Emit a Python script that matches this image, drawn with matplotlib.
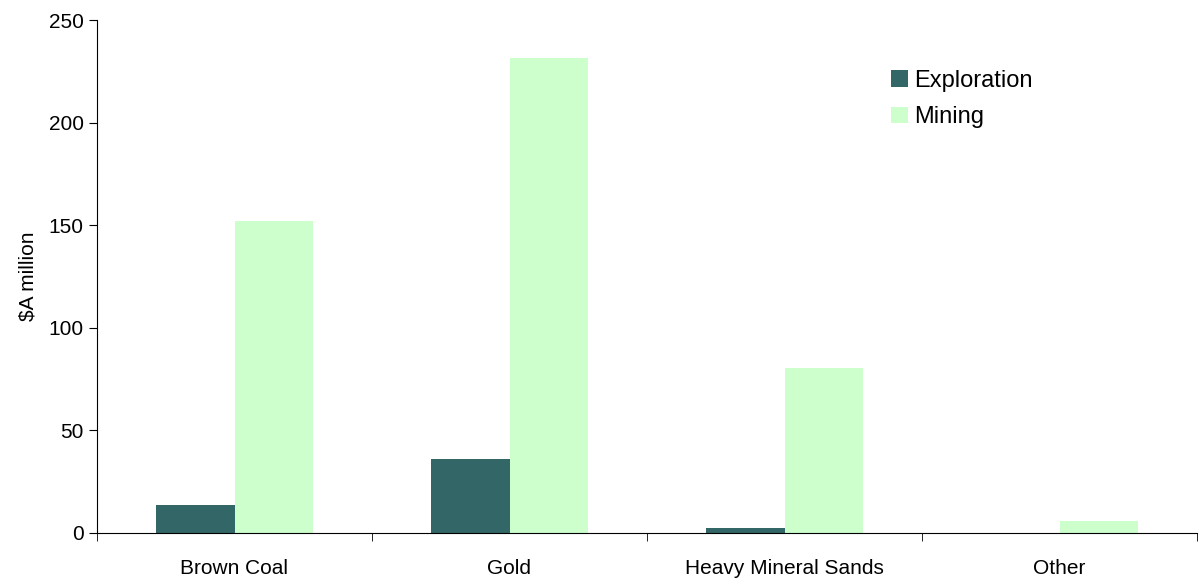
import numpy as np
import matplotlib.pyplot as plt

plt.rcParams['font.family'] = ['Liberation Sans', 'DejaVu Sans']

# Spending by commodity, $A million
categories = ["Brown Coal", "Gold", "Heavy Mineral Sands", "Other"]
exploration = [13.6, 36.0, 2.4, 0.0]
mining = [152.0, 231.5, 80.4, 5.8]

fig = plt.figure(figsize=(12, 5.78), dpi=100)
ax = fig.add_axes([97 / 1200, 45 / 578, 1100 / 1200, 513 / 578])

x = np.arange(len(categories))
w = 0.287
ax.bar(x - w / 2, exploration, w, color="#336666", label="Exploration")
ax.bar(x + w / 2, mining, w, color="#CCFFCC", label="Mining")

ax.set_xlim(-0.5, len(categories) - 0.5)
ax.set_ylim(0, 250)
ax.set_yticks(np.arange(0, 251, 50))
ax.set_xticks(x)
ax.set_xticklabels(categories, fontsize=15)
ax.tick_params(axis="x", length=0, pad=19)
# tick marks sit on the category boundaries
ax.set_xticks(np.arange(-0.5, len(categories), 1), minor=True)
ax.tick_params(axis="x", which="minor", length=6, direction="out")
ax.tick_params(axis="y", labelsize=15, length=6, direction="out")
ax.set_ylabel("$A million", fontsize=15, labelpad=8)

for side in ["top", "right"]:
    ax.spines[side].set_visible(False)

ax.legend(loc="upper left", bbox_to_anchor=(891 / 1200, 1 - 70 / 578),
          bbox_transform=fig.transFigure, frameon=False, fontsize=17,
          borderpad=0, borderaxespad=0, handlelength=0.7, handleheight=0.7,
          handletextpad=0.3, labelspacing=0.6)

fig.savefig("out.png", dpi=100)
